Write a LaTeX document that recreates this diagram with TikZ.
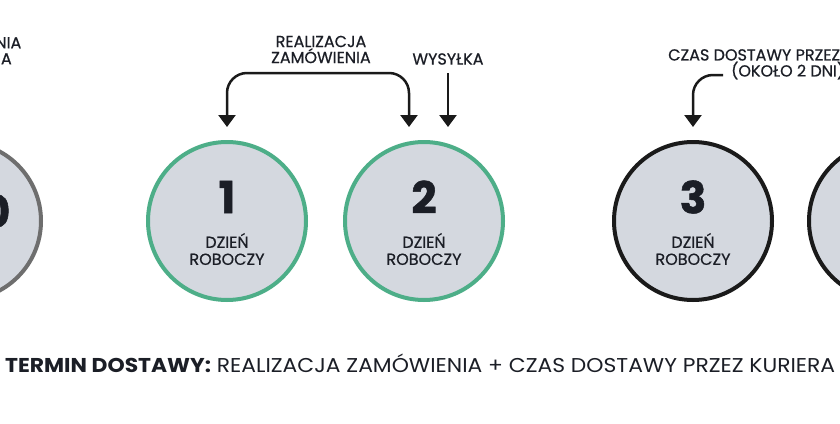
\documentclass[tikz,border=0pt]{standalone}
\usepackage{fontspec}
\setmainfont{Poppins}
\newfontfamily\notefont{Poppins}[FakeBold=0.6]
\newfontfamily\numfont{Poppins}[FakeBold=1.2]
\usepackage{graphicx}
\usetikzlibrary{arrows.meta,calc}

\definecolor{dayfill}{HTML}{D4D8DF}
\definecolor{pastline}{HTML}{6E6E6E}
\definecolor{greenline}{HTML}{4DAE88}
\definecolor{inkline}{HTML}{1A1A1A}
\definecolor{ink}{HTML}{1B1E26}

\tikzset{
  day/.style={circle, draw, fill=dayfill, line width=4pt, minimum size=158pt, inner sep=0pt},
  num/.style={inner sep=0pt, text=ink, font=\fontsize{44}{44}\selectfont\numfont\bfseries},
  daytext/.style={inner sep=0pt, align=center, text=ink, font=\fontsize{16}{17}\selectfont\notefont},
  note/.style={inner sep=0pt, align=center, text=ink, font=\fontsize{16}{16}\selectfont\notefont},
  pointer/.style={draw=inkline, line width=2.5pt, arrows={Triangle[width=17pt,length=12pt]-Triangle[width=17pt,length=12pt]}},
}

\begin{document}
\begin{tikzpicture}[x=1pt,y=-1pt]
\useasboundingbox (0,0) rectangle (840,423);
\clip (0,0) rectangle (840,423);
\fill[white] (0,0) rectangle (840,423);

%Shape: Circle, day 0
\node[day, draw=pastline] (c0) at (-38,221) {};
\node[num] (n0) at (-4,211) {0};

%Shape: Circle, working days
\foreach \n/\x/\col in {1/227/greenline, 2/424/greenline, 3/693/inkline, 4/888/inkline}{
  \node[day, draw=\col] (c\n) at (\x,221) {};
  \node[num] (n\n) at ($(c\n)+(0,-24)$) {\n};
  \node[daytext] (d\n) at ($(c\n)+(0,28)$) {DZIEŃ\\ROBOCZY};
}

% Text Node
\node[note] (zloz) at (-38,49) {DZIEŃ ZŁOŻENIA\\ZAMÓWIENIA};
% Text Node
\node[note] (real) at (321,49.5) {REALIZACJA\\ZAMÓWIENIA};
% Text Node
\node[note] (wys) at (448,59) {WYSYŁKA};
% Text Node
\node[note, anchor=north west] (czas) at (668,49) {CZAS DOSTAWY PRZEZ KURIERA\\(OKOŁO 2 DNI)};

%Arrow tips
\coordinate (bar) at (318,73);
\coordinate (t1) at ($(c1.north)+(0,-13)$);
\coordinate (t2) at ($(c2.north)+(-15,-13)$);
\coordinate (t2b) at ($(c2.north)+(24,-13)$);
\coordinate (t3) at ($(c3.north)+(0,-13)$);
\coordinate (k3) at (723,75);

%Curve Lines
\draw[pointer, rounded corners=20pt] (t1) |- (bar) -| (t2);
\draw[pointer, -{Triangle[width=17pt,length=12pt]}] (wys.south |- bar) -- (t2b);
\draw[pointer, -{Triangle[width=17pt,length=12pt]}, rounded corners=20pt] (k3) -| (t3);

% Text Node
\node[anchor=base west, inner sep=0pt, text=ink] (terms) at (5,372) {\resizebox{830pt}{\height}{\fontsize{20}{24}\selectfont\textbf{TERMIN DOSTAWY:} REALIZACJA ZAMÓWIENIA + CZAS DOSTAWY PRZEZ KURIERA}};

\end{tikzpicture}
\end{document}
